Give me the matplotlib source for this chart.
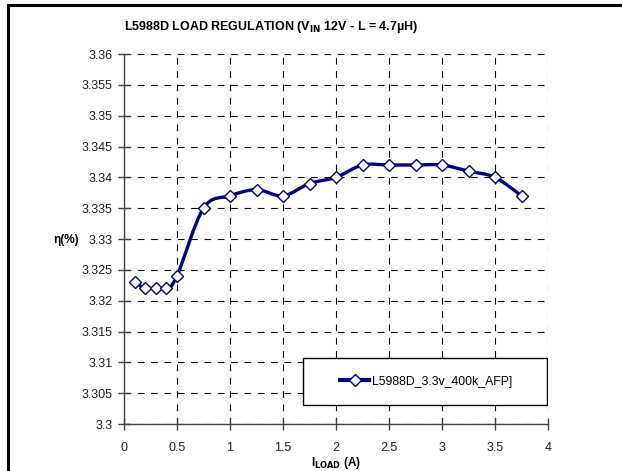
import numpy as np
import matplotlib.pyplot as plt
from matplotlib.path import Path
from matplotlib.patches import PathPatch, Rectangle
from matplotlib.lines import Line2D

plt.rcParams['font.family'] = ['Liberation Sans', 'DejaVu Sans']
plt.rcParams['mathtext.default'] = 'regular'

# data
i_load = [0.1, 0.2, 0.3, 0.4, 0.5, 0.75, 1.0, 1.25, 1.5, 1.75,
          2.0, 2.25, 2.5, 2.75, 3.0, 3.25, 3.5, 3.75]
vout = [3.323, 3.322, 3.322, 3.322, 3.324, 3.335, 3.337, 3.338, 3.337, 3.339,
        3.340, 3.342, 3.342, 3.342, 3.342, 3.341, 3.340, 3.337]
series_name = 'L5988D_3.3v_400k_AFP]'
x_ticks = [0, 0.5, 1, 1.5, 2, 2.5, 3, 3.5, 4]
y_ticks = [3.3, 3.305, 3.31, 3.315, 3.32, 3.325, 3.33, 3.335, 3.34, 3.345, 3.35, 3.355, 3.36]
y_tick_labels = ['3.3', '3.305', '3.31', '3.315', '3.32', '3.325', '3.33', '3.335',
                 '3.34', '3.345', '3.35', '3.355', '3.36']

navy = '#000080'
W, H = 622, 471

fig = plt.figure(figsize=(6.22, 4.71), dpi=100)
ax = fig.add_axes([124/W, 1-424/H, 424/W, 370/H])

# smoothed line (excel style bezier through the points)
pts = np.column_stack([i_load, vout])
verts = [pts[0]]
codes = [Path.MOVETO]
n = len(pts)
for k in range(n - 1):
    p0 = pts[k-1] if k > 0 else pts[k]
    p1 = pts[k]
    p2 = pts[k+1]
    p3 = pts[k+2] if k + 2 < n else pts[k+1]
    c1 = p1 + (p2 - p0) / 6.0
    c2 = p2 - (p3 - p1) / 6.0
    verts += [c1, c2, p2]
    codes += [Path.CURVE4] * 3
ax.add_patch(PathPatch(Path(verts, codes), facecolor='none', edgecolor=navy,
                       lw=2.4, zorder=3, capstyle='round', joinstyle='round'))
ax.plot(i_load, vout, ls='none', marker='D', ms=6.5, mfc='white', mec=navy,
        mew=1.0, zorder=4)

ax.set_xlim(0, 4)
ax.set_ylim(3.3, 3.36)
ax.set_xticks(x_ticks)
ax.set_xticklabels([f'{t:g}' for t in x_ticks])
ax.set_yticks(y_ticks)
ax.set_yticklabels(y_tick_labels)
ax.grid(True, color='black', ls=(0, (6, 6)), lw=0.8)
ax.set_axisbelow(True)
for s in ['top', 'right']:
    ax.spines[s].set_visible(False)
for s in ['left', 'bottom']:
    ax.spines[s].set_color('#444444')
    ax.spines[s].set_linewidth(1.0)
ax.tick_params(direction='inout', length=8, width=1.0, color='#444444',
               labelsize=9, labelcolor='#222222')
ax.tick_params(axis='x', pad=9)
ax.tick_params(axis='y', pad=4)

fig.text(271/W, 1-27/H, 'L5988D LOAD REGULATION (V$_{\\mathbf{IN}}$ 12V - L = 4.7µH)',
         ha='center', va='center', fontsize=9, fontweight='bold')
fig.text(66/W, 1-240/H, 'η(%)', ha='center', va='center', fontsize=8.5,
         fontweight='bold')
fig.text(336/W, 1-463/H, 'I$_{\\mathbf{LOAD}}$ (A)', ha='center', va='center',
         fontsize=8.5, fontweight='bold')

# legend box
bx0, bx1, by0, by1 = 303, 547, 358, 405
ax.add_patch(Rectangle(((bx0-124)/424, (424-by1)/370), (bx1-bx0)/424, (by1-by0)/370,
                       transform=ax.transAxes, facecolor='white', edgecolor='black',
                       lw=1.0, zorder=5))
handle = Line2D([], [], color=navy, lw=3.0, marker='D', ms=6.5, mfc='white',
                mec=navy, mew=1.0)
leg = ax.legend([handle], [series_name], loc='center',
                bbox_to_anchor=((426-124)/424, (424-381.5)/370),
                frameon=False, fontsize=8.8, handlelength=2.4, handletextpad=0.2)
leg.set_zorder(6)

# outer chart frame (top and left edges visible)
fig.add_artist(Line2D([8/W, 1], [1-5/H, 1-5/H], color='black', lw=2.2))
fig.add_artist(Line2D([8/W, 8/W], [0, 1-5/H], color='black', lw=2.2))

fig.savefig('out.png', dpi=100)
